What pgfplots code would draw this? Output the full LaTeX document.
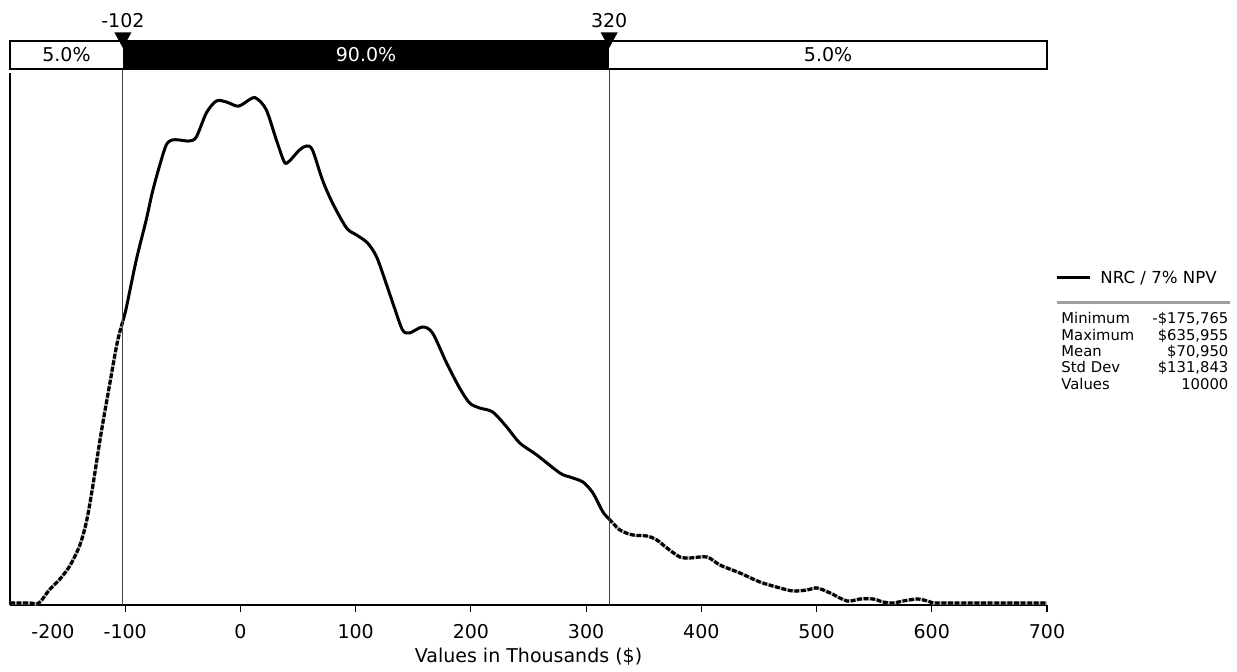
\documentclass[border=0pt]{standalone}
\usepackage{fontspec}
\setmainfont{DejaVu Sans}
\usepackage{pgfplots}
\pgfplotsset{compat=1.18}
\usepackage{pgfplotstable}

% density curve, split at the 5% / 95% points (x in thousands, y = relative density)
\pgfplotstableread{
x y
-200 2
-183.5 2
-174.9 2
-166.0 15
-157.4 25
-148.7 38
-140.0 58
-133.9 82
-128.7 115
-120.9 172
-113.9 218
-107.0 262
-102 284
}\lowtail

\pgfplotstableread{
x y
-102 284
-99.1 297
-90.4 345
-81.8 385
-76.6 412
-70.5 438
-64.4 460
-59.2 465
-53.1 465
-44.4 464
-38.3 468
-29.6 492
-20.9 504
-12.3 503
-3.6 499
0.8 500
10.3 507
14.7 506
22.5 495
31.2 465
38.1 443
42.5 444
51.2 455
57.3 459
62.5 455
71.2 425
79.9 402
92.1 377
100.8 370
110.3 362
118.2 348
126.9 320
133.7 297
140.7 275
146.7 272
158.0 278
166.7 272
178.9 242
190.2 217
198.9 202
207.6 197
218.9 193
231.1 178
242.4 162
257.2 150
277.2 132
285.9 128
297.2 123
305.9 112
314.6 93
320 86
}\middle

\pgfplotstableread{
x y
320 86
329.3 75
340.6 70
352.7 69
361.4 65
370.1 57
381.4 48
390.1 47
404.9 48
416.1 40
433.5 32
450.9 23
468.3 17
479.6 14
491.8 15
500.5 17
511.8 12
526.5 4
537.8 6
549.1 6
557.8 3
566.5 2
575.2 4
587.4 6
596.1 4
601.3 2
616.1 2
700 2
}\hightail

\begin{document}
\begin{tikzpicture}
\path[use as bounding box] (-5pt,-33.5pt) rectangle (613.5pt,302.5pt);
\begin{axis}[
  scale only axis,
  width=518.5pt, height=266pt,
  xmin=-200, xmax=700, ymin=0, ymax=532,
  axis x line*=bottom, axis y line*=left,
  axis line style={black, line width=0.8pt},
  ytick=\empty,
  xtick={-100,0,...,700},
  tick align=outside,
  major tick length=3.5pt,
  tick style={black, line width=0.6pt},
  /pgf/number format/assume math mode=true,
  ticklabel style={font=\fontsize{9.5}{11}\selectfont},
  xticklabel style={anchor=center, yshift=-10pt},
  xlabel={Values in Thousands (\$)},
  xlabel style={font=\fontsize{9.5}{11}\selectfont, at={(axis description cs:0.5,0)}, anchor=center, yshift=-26pt},
  clip=false,
]
% tails: grey under black dashes
\addplot[gray!55, line width=1.6pt, smooth, forget plot] table {\lowtail};
\addplot[black, line width=1.6pt, smooth, dash pattern=on 2.4pt off 0.9pt, forget plot] table {\lowtail};
\addplot[gray!55, line width=1.6pt, smooth, forget plot] table {\hightail};
\addplot[black, line width=1.6pt, smooth, dash pattern=on 2.4pt off 0.9pt, forget plot] table {\hightail};
\addplot[black, line width=1.5pt, smooth] table {\middle};

% percentile markers
\draw[black!75, line width=0.5pt] (axis cs:-102,0) -- (axis cs:-102,536);
\draw[black!75, line width=0.5pt] (axis cs:320,0) -- (axis cs:320,536);

% 5 / 90 / 5 bar
\draw[black, line width=0.8pt, fill=white] (axis cs:-200,536) rectangle (axis cs:700,564);
\fill[black] (axis cs:-102,536) rectangle (axis cs:320,564);
\node[font=\fontsize{9.5}{11}\selectfont] at (axis cs:-151,550) {5.0\%};
\node[font=\fontsize{9.5}{11}\selectfont, text=white] at (axis cs:109,550) {90.0\%};
\node[font=\fontsize{9.5}{11}\selectfont] at (axis cs:510,550) {5.0\%};

\fill[black] ([xshift=-4.25pt]axis cs:-102,572.5) -- ([xshift=4.25pt]axis cs:-102,572.5) -- (axis cs:-102,557) -- cycle;
\fill[black] ([xshift=-4.25pt]axis cs:320,572.5) -- ([xshift=4.25pt]axis cs:320,572.5) -- (axis cs:320,557) -- cycle;
\node[font=\fontsize{9.5}{11}\selectfont] at (axis cs:-102,584) {-102};
\node[font=\fontsize{9.5}{11}\selectfont] at (axis cs:320,584) {320};

% first tick label sits inside the axis start
\node[font=\fontsize{9.5}{11}\selectfont, xshift=21.5pt, yshift=-13.5pt] at (axis cs:-200,0) {-200};
\end{axis}

% legend and statistics
\draw[black, line width=1.5pt] (523.5pt,163.5pt) -- (540pt,163.5pt);
\node[anchor=west, inner sep=0pt, font=\fontsize{8.3}{10}\selectfont] at (545pt,163.5pt) {NRC / 7\% NPV};
\draw[gray!75, line width=1.5pt] (523.5pt,151pt) -- (610pt,151pt);
\node[anchor=north west, inner sep=0pt, text width=83.5pt, align=left,
      font=\fontsize{7.4}{8.2}\selectfont] at (525.5pt,146.5pt)
  {Minimum\hfill -\$175,765\\
   Maximum\hfill \$635,955\\
   Mean\hfill \$70,950\\
   Std Dev\hfill \$131,843\\
   Values\hfill 10000};
\end{tikzpicture}
\end{document}
